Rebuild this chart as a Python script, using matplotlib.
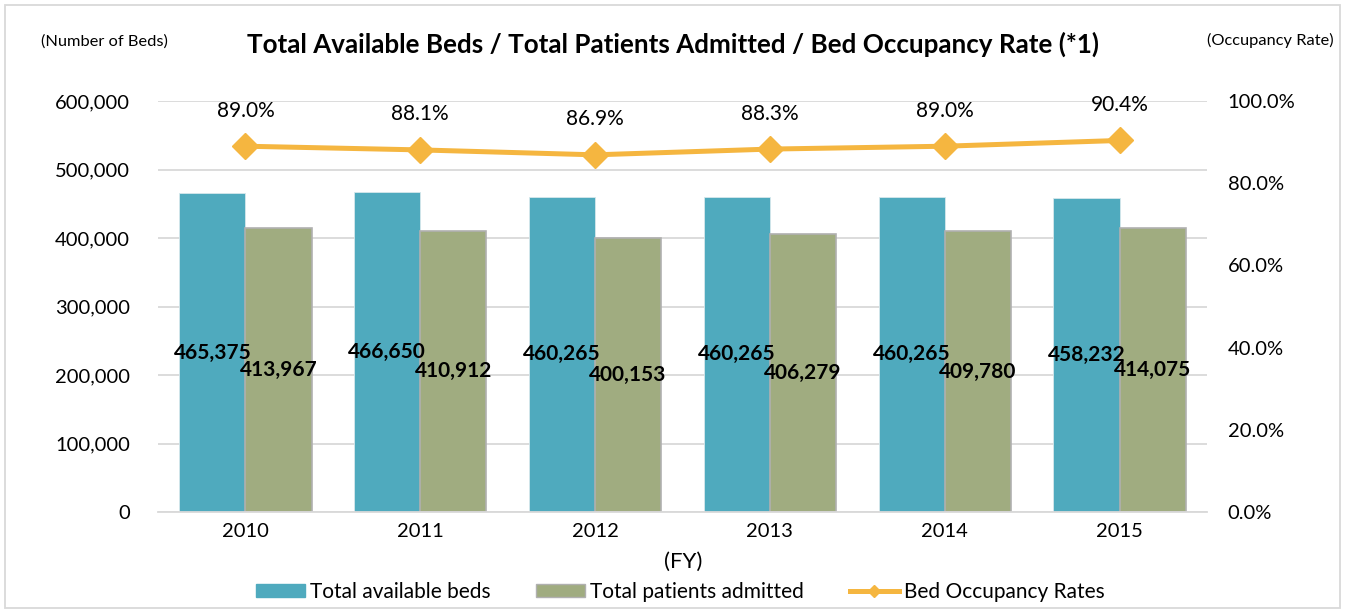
import matplotlib
matplotlib.use("Agg")
import matplotlib.pyplot as plt
import numpy as np
from matplotlib.ticker import FuncFormatter
from matplotlib.lines import Line2D
from matplotlib.patches import Patch, Rectangle

plt.rcParams['font.family'] = ['Lato', 'DejaVu Sans']

years = ["2010", "2011", "2012", "2013", "2014", "2015"]
beds = [465375, 466650, 460265, 460265, 460265, 458232]
patients = [413967, 410912, 400153, 406279, 409780, 414075]
rates = [89.0, 88.1, 86.9, 88.3, 89.0, 90.4]

c_beds = "#4FAABE"
c_pat = "#A0AC80"
c_line = "#F5B640"

fig = plt.figure(figsize=(13.46, 6.13), dpi=100)
ax = fig.add_axes([158/1346, 1-512/613, (1207-158)/1346, (512-101)/613])
ax2 = ax.twinx()

x = np.arange(len(years))
w = 0.378
ax.bar(x - w/2, beds, w, color=c_beds, edgecolor="#D6E8EC", linewidth=0.6, zorder=2)
ax.bar(x + w/2, patients, w, color=c_pat, edgecolor="#B0B0B0", linewidth=1.2, zorder=2)

for xi, v in zip(x, beds):
    ax.text(xi - w/2, v/2, f"{v:,}", ha="center", va="center", fontsize=15,
            fontweight="bold", color="black", zorder=5)
for xi, v in zip(x, patients):
    ax.text(xi + w/2, v/2, f"{v:,}", ha="center", va="center", fontsize=15,
            fontweight="bold", color="black", zorder=5)

ax.set_ylim(0, 600000)
ax.set_xlim(-0.5, len(years) - 0.5)
ax.set_yticks(np.arange(0, 600001, 100000))
ax.yaxis.set_major_formatter(FuncFormatter(lambda v, p: f"{int(v):,}"))
ax.grid(axis="y", color="#D9D9D9", linewidth=1.3, zorder=0)
ax.set_axisbelow(True)
ax.set_xticks(x)
ax.set_xticklabels(years)
ax.tick_params(axis="both", length=0, labelsize=14.5)
ax.tick_params(axis="y", pad=20)
ax.tick_params(axis="x", pad=8)
for s in ["top", "right", "left"]:
    ax.spines[s].set_visible(False)
ax.spines["bottom"].set_color("#D9D9D9")
ax.spines["bottom"].set_linewidth(1.3)

ax2.plot(x, rates, color=c_line, linewidth=3.6, marker="D", markersize=13.5, zorder=4)
for xi, r in zip(x, rates):
    ax2.annotate(f"{r:.1f}%", (xi, r), xytext=(0, 25.5), textcoords="offset points",
                 ha="center", va="center", fontsize=15, color="black")
ax2.set_ylim(0, 100)
ax2.set_yticks(np.arange(0, 101, 20))
ax2.yaxis.set_major_formatter(FuncFormatter(lambda v, p: f"{v:.1f}%"))
ax2.tick_params(axis="y", length=0, labelsize=14.5, pad=15)
for s in ax2.spines.values():
    s.set_visible(False)
ax2.set_zorder(ax.get_zorder() + 1)
ax2.patch.set_visible(False)

fig.text(673/1346, 1-44/613, "Total Available Beds / Total Patients Admitted / Bed Occupancy Rate (*1)",
         ha="center", va="center", fontsize=18.7, fontweight="bold")
fig.text(104/1346, 1-42/613, "(Number of Beds)", ha="center", va="center", fontsize=11.8)
fig.text(1270/1346, 1-40/613, "(Occupancy Rate)", ha="center", va="center", fontsize=11.8)
fig.text(683/1346, 1-562/613, "(FY)", ha="center", va="center", fontsize=16)

handles = [Patch(facecolor=c_beds, edgecolor=c_beds),
           Patch(facecolor=c_pat, edgecolor="#B0B0B0"),
           Line2D([0], [0], color=c_line, linewidth=3.6, marker="D", markersize=6.5)]
labels = ["Total available beds", "Total patients admitted", "Bed Occupancy Rates"]
fig.legend(handles, labels, loc="center", bbox_to_anchor=(680/1346, 1-592/613), ncol=3,
           frameon=False, fontsize=15, handlelength=2.35, handleheight=0.63,
           handletextpad=0.24, columnspacing=2.2, borderpad=0.2)

fig.patches.append(Rectangle((5/1346, 5/613), 1335/1346, 603/613, transform=fig.transFigure,
                             fill=False, edgecolor="#D9D9D9", linewidth=1.3))

fig.savefig("out.png", dpi=100)
